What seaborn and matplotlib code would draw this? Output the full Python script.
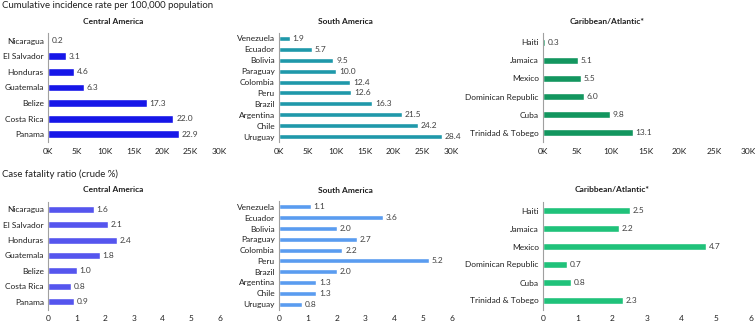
import matplotlib
matplotlib.use("Agg")
import matplotlib.pyplot as plt
import seaborn as sns
import pandas as pd
import numpy as np

sns.set_theme(style="white")
plt.rcParams['font.family'] = ['Lato', 'DejaVu Sans']

# ---------------- data ----------------
central = ["Nicaragua", "El Salvador", "Honduras", "Guatemala", "Belize", "Costa Rica", "Panama"]
central_inc = [0.2, 3.1, 4.6, 6.3, 17.3, 22.0, 22.9]          # thousands per 100,000
central_cfr = [1.6, 2.1, 2.4, 1.8, 1.0, 0.8, 0.9]

south = ["Venezuela", "Ecuador", "Bolivia", "Paraguay", "Colombia", "Peru", "Brazil",
         "Argentina", "Chile", "Uruguay"]
south_inc = [1.9, 5.7, 9.5, 10.0, 12.4, 12.6, 16.3, 21.5, 24.2, 28.4]
south_cfr = [1.1, 3.6, 2.0, 2.7, 2.2, 5.2, 2.0, 1.3, 1.3, 0.8]

carib = ["Haiti", "Jamaica", "Mexico", "Dominican Republic", "Cuba", "Trinidad & Tobego"]
carib_inc = [0.3, 5.1, 5.5, 6.0, 9.8, 13.1]
carib_cfr = [2.5, 2.2, 4.7, 0.7, 0.8, 2.3]

inc_ticks = [0, 5000, 10000, 15000, 20000, 25000, 30000]
inc_ticklabels = ["0K", "5K", "10K", "15K", "20K", "25K", "30K"]
cfr_ticks = [0, 1, 2, 3, 4, 5, 6]

W, H = 755, 325
fig = plt.figure(figsize=(W / 100, H / 100), dpi=100)

FS = 6.0

def px_axes(x0, x1, y0, y1):
    return fig.add_axes([x0 / W, 1 - y1 / H, (x1 - x0) / W, (y1 - y0) / H])

def panel(x0, x1, y0, y1, cats, vals, color, width, incidence):
    ax = px_axes(x0, x1, y0, y1)
    if incidence:
        xv = [v * 1000 for v in vals]
    else:
        xv = list(vals)
    df = pd.DataFrame({"cat": cats, "val": xv})
    sns.barplot(data=df, y="cat", x="val", orient="h", color=color, width=width,
                saturation=1, ax=ax)
    labels = [f"{v:.1f}" for v in vals]
    ax.bar_label(ax.containers[0], labels=labels, padding=2, fontsize=FS, color="#404040")
    if incidence:
        ax.set_xlim(0, 30000)
        ax.set_xticks(inc_ticks)
        ax.set_xticklabels(inc_ticklabels)
    else:
        ax.set_xlim(0, 6)
        ax.set_xticks(cfr_ticks)
    ax.set_ylim(len(cats) - 0.5, -0.5)
    ax.set_xlabel("")
    ax.set_ylabel("")
    for s in ["top", "right", "bottom"]:
        ax.spines[s].set_visible(False)
    ax.spines["left"].set_color("#a0a0a0")
    ax.spines["left"].set_linewidth(0.8)
    ax.tick_params(axis="y", length=0, pad=3, labelsize=FS, labelcolor="#202020")
    ax.tick_params(axis="x", length=0, pad=4, labelsize=FS, labelcolor="#202020")
    ax.set_yticks(np.arange(-0.5, len(cats), 1.0), minor=True)
    ax.tick_params(axis="y", which="minor", length=3, color="#a0a0a0", width=0.8)
    ax.grid(False)
    return ax

# top row
panel(48, 219, 33, 142, central, central_inc, "#1616e8", 0.5, True)
panel(279, 451, 33, 142, south, south_inc, "#1f98aa", 0.45, True)
panel(543, 748, 33, 142, carib, carib_inc, "#13965f", 0.38, True)
# bottom row
panel(48, 220, 201.5, 309.5, central, central_cfr, "#5555ee", 0.45, False)
panel(279, 452, 201.5, 309.5, south, south_cfr, "#5a9cf0", 0.45, False)
panel(543, 751, 201.5, 309.5, carib, carib_cfr, "#20c27a", 0.38, False)

def ftext(x, y, s, **kw):
    fig.text(x / W, 1 - y / H, s, **kw)

ftext(2, 6, "Cumulative incidence rate per 100,000 population", fontsize=6.9,
      va="center", ha="left", color="#202020")
ftext(2, 174, "Case fatality ratio (crude %)", fontsize=6.9, va="center", ha="left",
      color="#202020")
for x, y, s in [(113, 22, "Central America"), (345, 22, "South America"),
                (607, 22, "Caribbean/Atlantic*"),
                (113, 190, "Central America"), (345, 190.5, "South America"),
                (612, 190, "Caribbean/Atlantic*")]:
    ftext(x, y, s, fontsize=6.0, fontweight="bold", ha="center", va="center", color="#202020")

fig.savefig("out.png", dpi=100)
